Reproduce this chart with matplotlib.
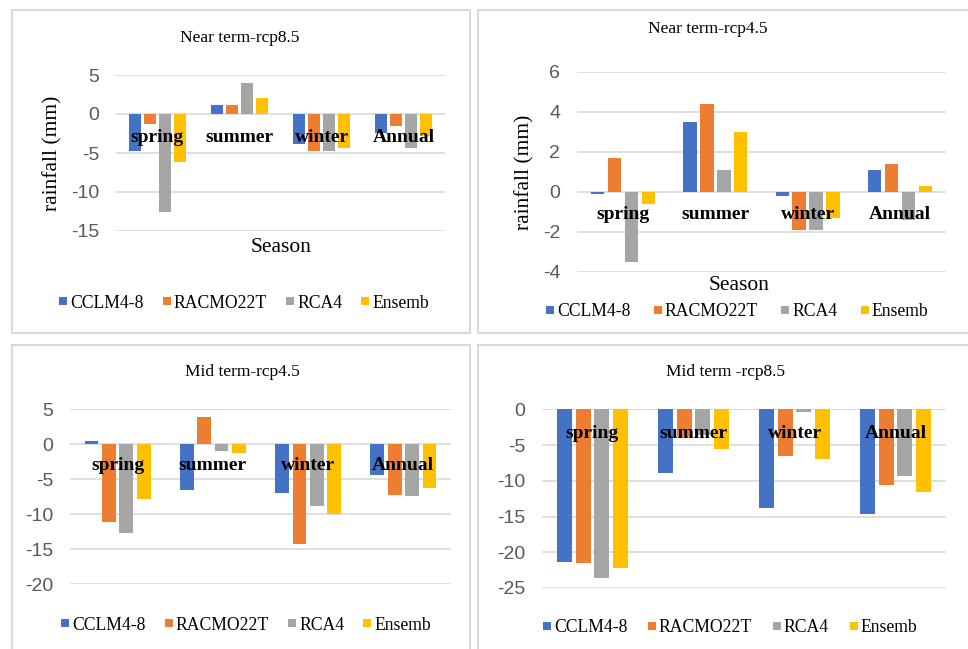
import matplotlib.pyplot as plt
from matplotlib.patches import Rectangle
from matplotlib.lines import Line2D
import numpy as np

plt.rcParams['axes.unicode_minus'] = False

W, H = 968, 649
SERIF = 'Liberation Serif'
SANS = 'Liberation Sans'

seasons = ['spring', 'summer', 'winter', 'Annual']
models = ['CCLM4-8', 'RACMO22T', 'RCA4', 'Ensemb']
colors = ['#4472C4', '#ED7D31', '#A5A5A5', '#FFC000']

# rainfall change (mm), one row per model, columns follow `seasons`
near_rcp85 = [[-4.7, 1.2, -3.9, -2.4],
              [-1.3, 1.2, -4.7, -1.6],
              [-12.6, 4.0, -4.7, -4.4],
              [-6.2, 2.1, -4.4, -2.8]]
near_rcp45 = [[-0.1, 3.5, -0.2, 1.1],
              [1.7, 4.4, -1.9, 1.4],
              [-3.5, 1.1, -1.9, -1.4],
              [-0.6, 3.0, -1.3, 0.3]]
mid_rcp45 = [[0.4, -6.6, -7.0, -4.4],
             [-11.1, 3.9, -14.2, -7.2],
             [-12.7, -0.9, -8.8, -7.4],
             [-7.8, -1.2, -10.0, -6.3]]
mid_rcp85 = [[-21.4, -8.9, -13.8, -14.7],
             [-21.5, -3.9, -6.6, -10.6],
             [-23.6, -3.6, -0.4, -9.4],
             [-22.2, -5.6, -7.0, -11.6]]

yticks_near85 = [-15, -10, -5, 0, 5]
yticks_near45 = [-4, -2, 0, 2, 4, 6]
yticks_mid45 = [-20, -15, -10, -5, 0, 5]
yticks_mid85 = [-25, -20, -15, -10, -5, 0]


def fx(x):
    return x / W


def fy(y):
    return 1 - y / H


fig = plt.figure(figsize=(W / 100, H / 100), dpi=100)

# chart frames (left, top, right, bottom) in pixels
frames = [(12, 10, 469.5, 333), (478, 10, 975, 333),
          (12, 345, 469.5, 660), (478, 345, 975, 660)]
for l, t, r, b in frames:
    fig.patches.append(Rectangle((fx(l), fy(b)), fx(r - l), (b - t) / H,
                                 transform=fig.transFigure, fill=False,
                                 edgecolor='#d9d9d9', linewidth=1.5))

panels = [
    dict(title='Near term-rcp8.5', data=near_rcp85, ticks=yticks_near85,
         box=(116, 75, 445, 231), title_xy=(240, 38), ylab_xy=(53, 153),
         xlab_xy=(281, 248), leg_xy=(244, 303), lab_off=24, colsp=1.05),
    dict(title='Near term-rcp4.5', data=near_rcp45, ticks=yticks_near45,
         box=(577, 71.7, 946, 271.7), title_xy=(708, 29), ylab_xy=(525, 172),
         xlab_xy=(739, 285), leg_xy=(737, 312), lab_off=23, colsp=1.3),
    dict(title='Mid term-rcp4.5', data=mid_rcp45, ticks=yticks_mid45,
         box=(70, 409.3, 451, 584.3), title_xy=(242, 372), ylab_xy=None,
         xlab_xy=None, leg_xy=(246, 625), lab_off=21, colsp=1.05),
    dict(title='Mid term -rcp8.5', data=mid_rcp85, ticks=yticks_mid85,
         box=(542, 409.3, 946, 588), title_xy=(726, 372), ylab_xy=None,
         xlab_xy=None, leg_xy=(730, 628), lab_off=24, colsp=1.15),
]

pitch, width = 0.183, 0.145
x = np.arange(len(seasons)) + 0.5

for p in panels:
    l, t, r, b = p['box']
    ax = fig.add_axes([fx(l), fy(b), fx(r - l), (b - t) / H])
    for k, (vals, c) in enumerate(zip(p['data'], colors)):
        ax.bar(x + (k - 1.5) * pitch, vals, width, color=c, zorder=2)
    ax.set_xlim(0, len(seasons))
    ax.set_ylim(p['ticks'][0], p['ticks'][-1])
    ax.set_yticks(p['ticks'])
    ax.set_yticklabels([str(v) for v in p['ticks']], fontfamily=SANS)
    ax.tick_params(axis='y', length=0, pad=12, labelsize=14, labelcolor='#595959')
    ax.set_xticks([])
    ax.grid(axis='y', color='#d9d9d9', linewidth=1.2, zorder=0)
    ax.set_axisbelow(True)
    for s in ax.spines.values():
        s.set_visible(False)
    ax.patch.set_alpha(0)

    for xi, name in zip(x, seasons):
        ax.annotate(name, xy=(xi, 0), xytext=(0, -p['lab_off']),
                    textcoords='offset pixels', ha='center', va='center',
                    fontfamily=SERIF, fontweight='bold', fontsize=14,
                    color='black', zorder=5)

    fig.text(fx(p['title_xy'][0]), fy(p['title_xy'][1]), p['title'],
             ha='center', va='center', fontfamily=SERIF, fontsize=12.5)
    if p['ylab_xy']:
        fig.text(fx(p['ylab_xy'][0]), fy(p['ylab_xy'][1]), 'rainfall (mm)',
                 rotation=90, ha='center', va='center', fontfamily=SERIF,
                 fontsize=15.5)
    if p['xlab_xy']:
        fig.text(fx(p['xlab_xy'][0]), fy(p['xlab_xy'][1]), 'Season',
                 ha='center', va='center', fontfamily=SERIF, fontsize=15.5)

    handles = [Line2D([], [], linestyle='none', marker='s', markersize=6,
                      markerfacecolor=c, markeredgewidth=0, label=m)
               for m, c in zip(models, colors)]
    ax.legend(handles=handles, loc='center',
              bbox_to_anchor=(fx(p['leg_xy'][0]), fy(p['leg_xy'][1])),
              bbox_transform=fig.transFigure, ncol=4, frameon=False,
              prop={'family': SERIF, 'size': 12.7}, handlelength=0.5,
              handletextpad=0.15, columnspacing=p['colsp'],
              borderaxespad=0, borderpad=0)

fig.savefig('out.png', dpi=100)
